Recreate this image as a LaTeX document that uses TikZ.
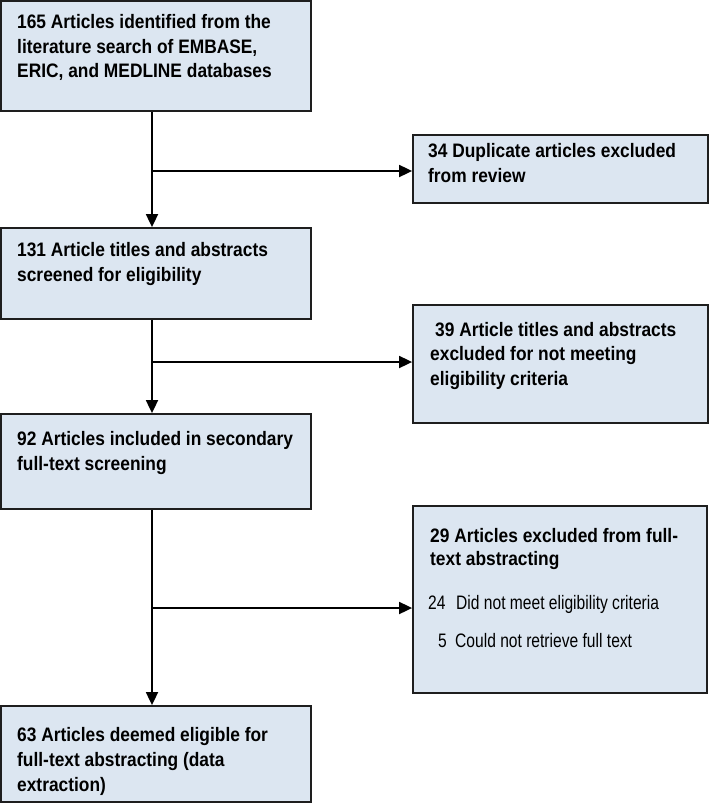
\documentclass[tikz,border=0pt]{standalone}
\usepackage{fontspec}
\setmainfont{Liberation Sans}
\newfontfamily\hdfont[FakeStretch=0.89]{Liberation Sans}
\newfontfamily\rgfont[FakeStretch=0.80]{Liberation Sans}
\usetikzlibrary{arrows.meta}
\definecolor{boxblue}{HTML}{DCE6F1}
\definecolor{edgecol}{HTML}{1E1E1E}
\tikzset{
  flowbox/.style={draw=edgecol, line width=1.8pt, fill=boxblue, inner sep=0pt},
  hd/.style={anchor=base west, inner sep=0pt, font=\hdfont\bfseries\fontsize{19.5}{24}\selectfont},
  rg/.style={anchor=base west, inner sep=0pt, font=\rgfont\fontsize{19.5}{24}\selectfont},
  conn/.style={draw=black, line width=1.8pt},
  arr/.style={conn, -{Triangle[length=13pt,width=12pt]}}
}
\begin{document}
\begin{tikzpicture}[x=1pt,y=-1pt]
\useasboundingbox (0,0) rectangle (709,803);
% boxes
\node[flowbox, minimum width=310pt, minimum height=110pt] (b1) at (156,56) {};
\node[flowbox, minimum width=295pt, minimum height=68pt] (b2) at (560.5,169) {};
\node[flowbox, minimum width=310pt, minimum height=91pt] (b3) at (156,273.5) {};
\node[flowbox, minimum width=295pt, minimum height=118pt] (b4) at (560.5,364) {};
\node[flowbox, minimum width=310pt, minimum height=95pt] (b5) at (156,461.5) {};
\node[flowbox, minimum width=294pt, minimum height=187pt] (b6) at (560,599.5) {};
\node[flowbox, minimum width=310pt, minimum height=96pt] (b7) at (156,754) {};
% texts
\node[hd] (t1a) at (17,28.3) {165 Articles identified from the};
\node[hd] (t1b) at (17,53) {literature search of EMBASE,};
\node[hd] (t1c) at (17,77.7) {ERIC, and MEDLINE databases};
\node[hd] (t2a) at (428,157) {34 Duplicate articles excluded};
\node[hd] (t2b) at (428,182) {from review};
\node[hd] (t3a) at (17,256.7) {131 Article titles and abstracts};
\node[hd] (t3b) at (17,281.7) {screened for eligibility};
\node[hd] (t4a) at (435,336.7) {39 Article titles and abstracts};
\node[hd] (t4b) at (430,360.5) {excluded for not meeting};
\node[hd] (t4c) at (430,385) {eligibility criteria};
\node[hd] (t5a) at (17,445) {92 Articles included in secondary};
\node[hd] (t5b) at (17,470) {full-text screening};
\node[hd] (t6a) at (430,542) {29 Articles excluded from full-};
\node[hd] (t6b) at (430,565) {text abstracting};
\node[rg] (t6c) at (428,609) {24};
\node[rg] (t6d) at (456,609) {Did not meet eligibility criteria};
\node[rg] (t6e) at (438,647) {5};
\node[rg] (t6f) at (455,647) {Could not retrieve full text};
\node[hd] (t7a) at (17,741.7) {63 Articles deemed eligible for};
\node[hd] (t7b) at (17,766.7) {full-text abstracting (data};
\node[hd] (t7c) at (17,791.7) {extraction)};
% junctions
\coordinate (j1) at (152,171);
\coordinate (j2) at (152,362);
\coordinate (j3) at (152,608);
% connectors
\draw[arr] (b1.south -| j1) -- (b3.north -| j1);
\draw[arr] (j1) -- (j1 -| b2.west);
\draw[arr] (b3.south -| j2) -- (b5.north -| j2);
\draw[arr] (j2) -- (j2 -| b4.west);
\draw[arr] (b5.south -| j3) -- (b7.north -| j3);
\draw[arr] (j3) -- (j3 -| b6.west);
\end{tikzpicture}
\end{document}
